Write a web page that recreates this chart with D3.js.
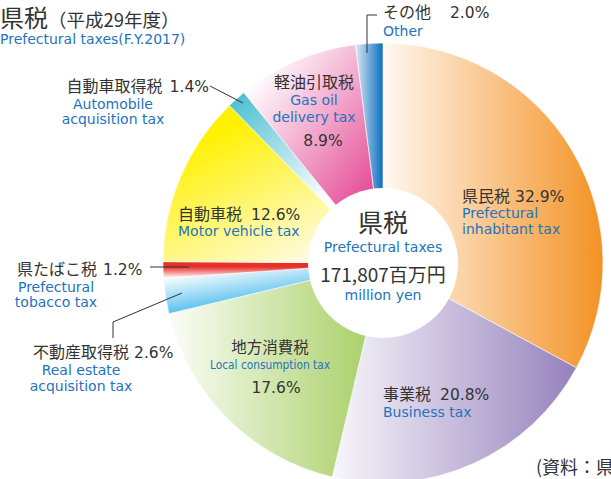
<!DOCTYPE html>
<html lang="ja">
<head>
  <meta charset="UTF-8">
  <title>県税（平成29年度）</title>
  <script src="https://d3js.org/d3.v7.min.js"></script>
  <style>
    body { margin: 0; background: #fff; }
    svg { display: block; }
    .ja { font-family: "Noto Sans CJK JP", sans-serif; fill: #333; }
    .num { font-family: "DejaVu Sans", sans-serif; fill: #333; }
    .en { font-family: "DejaVu Sans", sans-serif; fill: #2473bd; }
  </style>
</head>
<body>
  <div id="chart"></div>
  <script>
    // data, clockwise from 12 o'clock
    const namesJa = ["県民税", "事業税", "地方消費税", "不動産取得税", "県たばこ税", "自動車税", "自動車取得税", "軽油引取税", "その他"];
    const namesEn = ["Prefectural inhabitant tax", "Business tax", "Local consumption tax", "Real estate acquisition tax",
      "Prefectural tobacco tax", "Motor vehicle tax", "Automobile acquisition tax", "Gas oil delivery tax", "Other"];
    const shares = [32.9, 20.8, 17.6, 2.6, 1.2, 12.6, 1.4, 8.9, 2.0];
    const totalYen = "171,807";

    const width = 611, height = 479;
    const cx = 383, cy = 263, R = 220, hole = 75;

    // gradient per slice: from p0 (c0) to p1 (c1), coords relative to pie centre
    const fills = [
      { p0: [0, 0], p1: [220, 0], c0: "#fff8f0", c1: "#f39224" },
      { p0: [-50, 0], p1: [195, 0], c0: "#f8f6fb", c1: "#9581bc" },
      { p0: [-212, 0], p1: [-10, 0], c0: "#fbfdf6", c1: "#a8cf66" },
      { p0: [-214, 52], p1: [-220, 14], c0: "#55bfee", c1: "#ffffff" },
      { p0: [0, -2], p1: [0, 15], c0: "#e8302a", c1: "#ffffff", mid: 0.35 },
      { p0: [-130, -150], p1: [-60, -10], c0: "#fff100", c1: "#fffbe2" },
      { p0: [-150, -165], p1: [-60, -60], c0: "#4cbfd0", c1: "#ffffff" },
      { p0: [-133, -178], p1: [-8, -83], c0: "#ffffff", c1: "#e6539a" },
      { p0: [-30, 0], p1: [0, 0], c0: "#eef4fb", c1: "#0b6ebd" }
    ];

    const svg = d3.select("#chart").append("svg")
      .attr("width", width)
      .attr("height", height);

    const defs = svg.append("defs");
    fills.forEach((f, i) => {
      const g = defs.append("linearGradient")
        .attr("id", "g" + i)
        .attr("gradientUnits", "userSpaceOnUse")
        .attr("x1", f.p0[0]).attr("y1", f.p0[1])
        .attr("x2", f.p1[0]).attr("y2", f.p1[1]);
      g.append("stop").attr("offset", 0).attr("stop-color", f.c0);
      if (f.mid) g.append("stop").attr("offset", f.mid).attr("stop-color", f.c0);
      g.append("stop").attr("offset", 1).attr("stop-color", f.c1);
    });

    const pie = d3.pie().sort(null).value(d => d);
    const arc = d3.arc().innerRadius(0).outerRadius(R);

    const pieG = svg.append("g").attr("transform", `translate(${cx},${cy})`);
    pieG.selectAll("path")
      .data(pie(shares))
      .join("path")
      .attr("d", arc)
      .attr("fill", (d, i) => `url(#g${i})`)
      .attr("stroke", "#fff")
      .attr("stroke-width", 0.6);

    pieG.append("circle").attr("r", hole).attr("fill", "#fff");

    // leader lines
    const leaders = [
      [[367, 53], [367, 15], [377, 15]],
      [[210, 86], [243, 103]],
      [[150, 267], [189, 267]],
      [[113, 338], [113, 322], [182, 293]]
    ];
    svg.append("g").selectAll("path")
      .data(leaders)
      .join("path")
      .attr("d", d3.line())
      .attr("fill", "none")
      .attr("stroke", "#333")
      .attr("stroke-width", 1);

    const pct = i => shares[i].toFixed(1) + "%";

    function label(x, y, text, cls, size, anchor) {
      return svg.append("text")
        .attr("class", cls)
        .attr("x", x).attr("y", y)
        .attr("font-size", size)
        .attr("text-anchor", anchor || "start")
        .text(text);
    }

    // japanese name followed by a percentage in the wider latin face
    function nameLabel(x, y, i, gap, anchor) {
      const t = svg.append("text").attr("class", "ja")
        .attr("x", x).attr("y", y)
        .attr("text-anchor", anchor || "start");
      t.append("tspan").attr("font-size", 16).text(namesJa[i]);
      t.append("tspan").attr("class", "num").attr("font-size", 15.5)
        .attr("dx", gap).text(pct(i));
      return t;
    }

    // title
    const t = svg.append("text").attr("class", "ja").attr("x", 0).attr("y", 27);
    t.append("tspan").attr("font-size", 24).text("県税");
    t.append("tspan").attr("font-size", 18.5).text("（平成29年度）");
    label(0, 44, "Prefectural taxes(F.Y.2017)", "en", 14);

    // slice labels
    nameLabel(462, 202, 0, 5);
    label(462, 218, "Prefectural", "en", 14);
    label(462, 234, "inhabitant tax", "en", 14);

    nameLabel(383, 400, 1, 9);
    label(383, 417, namesEn[1], "en", 14);

    label(270, 353, namesJa[2], "ja", 15.5, "middle");
    label(270, 369, namesEn[2], "en", 13, "middle")
      .attr("textLength", 120).attr("lengthAdjust", "spacingAndGlyphs");
    label(276, 393, pct(2), "num", 15.5, "middle");

    nameLabel(33, 358, 3, 5);
    label(81, 375, "Real estate", "en", 14, "middle");
    label(81, 391, "acquisition tax", "en", 14, "middle");

    nameLabel(17, 275, 4, 6);
    label(56, 292, "Prefectural", "en", 14, "middle");
    label(56, 307, "tobacco tax", "en", 14, "middle");

    nameLabel(178, 220, 5, 9);
    label(178, 236, namesEn[5], "en", 14);

    nameLabel(209, 92, 6, 7, "end");
    label(113, 109, "Automobile", "en", 14, "middle");
    label(113, 124, "acquisition tax", "en", 14, "middle");

    label(314, 88, namesJa[7], "ja", 16, "middle");
    label(314, 105, "Gas oil", "en", 14, "middle");
    label(314, 122, "delivery tax", "en", 14, "middle");
    label(323, 146, pct(7), "num", 15.5, "middle");

    label(383, 18, namesJa[8], "ja", 16);
    label(450, 18, pct(8), "num", 15.5);
    label(383, 35.5, namesEn[8], "en", 14);

    // centre
    label(cx, 232, "県税", "ja", 25, "middle");
    label(cx, 252, "Prefectural taxes", "en", 14, "middle");
    label(cx, 282, totalYen + "百万円", "ja", 19, "middle");
    label(cx, 300, "million yen", "en", 14, "middle");

    // source note (cut at the edge)
    label(536, 474, "(資料：県", "ja", 18);
  </script>
</body>
</html>
